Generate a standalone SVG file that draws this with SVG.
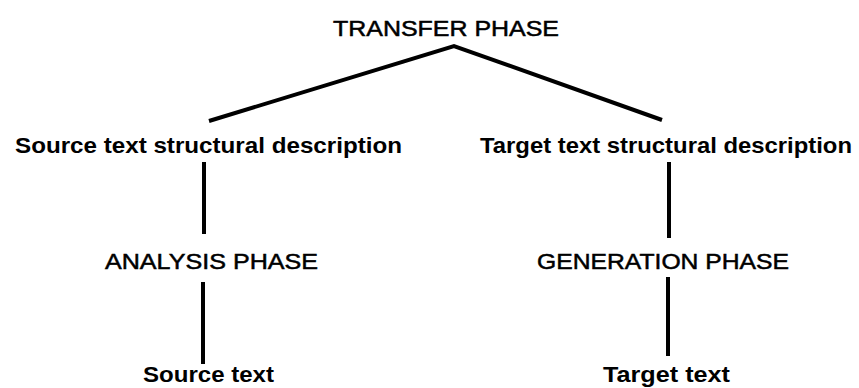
<svg xmlns="http://www.w3.org/2000/svg" width="859" height="388" viewBox="0 0 859 388">
<style>
.t{font-family:"Liberation Sans",Arial,sans-serif;font-size:22px;fill:#000}
.r{stroke:#000;stroke-width:0.5}
.b{font-weight:bold}
.c{stroke:#000;stroke-width:4;fill:none;stroke-linecap:butt}
</style>
<rect width="859" height="388" fill="#fff"/>
<g id="connectors">
<polyline class="c" points="209,121 454,46 662,120" stroke-width="3.5" stroke-linejoin="miter"/>
<line class="c" x1="204" y1="162" x2="204" y2="234"/>
<line class="c" x1="669" y1="162" x2="669" y2="238"/>
<line class="c" x1="203" y1="282" x2="203" y2="364"/>
<line class="c" x1="668" y1="277" x2="668" y2="356"/>
</g>
<g id="transfer"><text class="t r" x="333" y="36" textLength="226" lengthAdjust="spacingAndGlyphs">TRANSFER PHASE</text></g>
<g id="source-desc"><text class="t b" x="15" y="153" textLength="387" lengthAdjust="spacingAndGlyphs">Source text structural description</text></g>
<g id="target-desc"><text class="t b" x="480" y="153" textLength="372" lengthAdjust="spacingAndGlyphs">Target text structural description</text></g>
<g id="analysis"><text class="t r" x="105" y="269" textLength="213" lengthAdjust="spacingAndGlyphs">ANALYSIS PHASE</text></g>
<g id="generation"><text class="t r" x="537" y="269" textLength="252" lengthAdjust="spacingAndGlyphs">GENERATION PHASE</text></g>
<g id="source-text"><text class="t b" x="143" y="382" textLength="131" lengthAdjust="spacingAndGlyphs">Source text</text></g>
<g id="target-text"><text class="t b" x="603" y="382" textLength="127" lengthAdjust="spacingAndGlyphs">Target text</text></g>
</svg>
